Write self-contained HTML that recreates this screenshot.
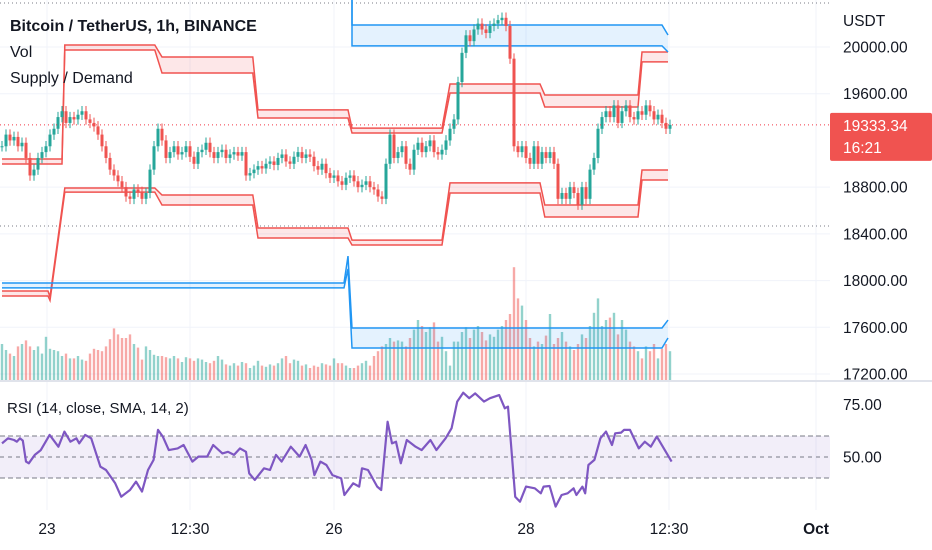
<!DOCTYPE html>
<html><head><meta charset="utf-8">
<style>
html,body{margin:0;padding:0;background:#fff;}
svg{display:block;font-family:"Liberation Sans",sans-serif;}
</style></head>
<body>
<svg id="chart" width="932" height="550" viewBox="0 0 932 550" xmlns="http://www.w3.org/2000/svg">
<rect width="932" height="550" fill="#fff"/>
<defs><clipPath id="mainClip"><rect x="0" y="0" width="830" height="380"/></clipPath>
<clipPath id="rsiClip"><rect x="0" y="382" width="830" height="128"/></clipPath></defs>
<g id="grid"></g>
<g id="volume" clip-path="url(#mainClip)"></g>
<g id="zones" clip-path="url(#mainClip)"></g>
<g id="candles" clip-path="url(#mainClip)"></g>
<g id="rsi" clip-path="url(#rsiClip)"></g>
<g id="axes"></g>
<g>
<text x="10" y="31" font-size="16" font-weight="bold" fill="#131722">Bitcoin / TetherUS, 1h, BINANCE</text>
<text x="10" y="57" font-size="16" fill="#131722">Vol</text>
<text x="10" y="83" font-size="16" fill="#131722">Supply / Demand</text>
<text x="7" y="413" font-size="15" fill="#131722">RSI (14, close, SMA, 14, 2)</text>
</g>
</svg>
<script>
const closes=[19150,19250,19200,19230,19150,19180,
19050,18900,18950,19050,19100,19150,
19250,19300,19400,19450,
19350,19400,19380,19420,19450,19380,19350,19320,
19250,19150,19050,18950,18900,18850,18800,
18720,18700,18780,18760,18700,18750,
18950,19150,19300,
19200,19050,19100,19150,19080,19100,19150,19060,19000,19100,19120,19180,19100,19050,19100,19120,19050,19080,19100,19070,19100,
18900,18920,
18950,18980,18960,19000,19020,18990,19050,19080,19020,19000,19060,19100,19050,19080,19060,
18980,18950,19000,18920,18880,18900,18850,18820,18880,18900,18850,18800,18820,18850,18800,18780,18720,18700,
19000,19250,
19050,19100,19150,19000,18950,19120,19180,19100,19150,19200,19100,19080,19120,
19200,19300,19380,
19700,19950,20100,
20050,20150,20200,20150,20120,20180,20200,20230,20250,20180,
19900,19150,
19100,19150,19050,19000,19150,19000,19100,19050,19100,
19000,18700,
18750,18700,18800,18750,18650,18800,18700,
18950,19050,19300,19400,
19450,19400,19500,19350,19450,19500,19400,19380,19450,19420,
19500,19450,19380,19420,19350,19300,19333];
const volumes=[30,25,22,20,28,30,33,28,25,28,22,36,
26,25,24,20,22,18,18,20,17,16,22,26,25,24,28,34,
43,38,35,35,38,30,27,17,28,25,
21,20,20,19,18,20,18,15,19,18,16,18,17,15,14,16,20,17,13,12,14,12,15,
14,10,12,16,12,11,13,12,14,18,20,14,17,16,12,13,10,12,11,14,
13,12,18,14,14,12,10,10,12,14,16,12,20,24,28,30,
35,32,33,32,28,35,42,50,45,40,44,48,32,36,24,12,32,
32,40,44,35,42,45,40,33,38,36,42,45,50,55,94,68,62,
50,35,28,32,30,37,55,30,35,40,32,28,25,30,38,35,45,56,68,45,
50,52,56,38,50,42,32,28,24,18,28,24,30,18,26,30,24];
// zones: [startHour,endHour,top,bottom]
const upperRed=[[0,15,19041,18998],[15.7,38.2,20017,19974],[40,62.7,19914,19777],[64,86.5,19461,19392],[87.5,110,19306,19264],[112,134.5,19683,19606],[135.7,159,19589,19486],[160,166.5,19957,19872]];
const lowerRed=[[0,11.5,17911,17868],[12,12,17860,17830],[15.7,38.2,18793,18758],[40,62.7,18733,18647],[64,86.5,18450,18365],[87.5,110,18347,18305],[112,134.5,18836,18750],[135.7,159,18647,18544],[160,166.5,18947,18861]];
const upperBlue=[[87.5,87.5,20450,20450],[87.5,165,20188,20009],[166.5,166.5,20103,19957]];
const lowerBlue=[[0,85.5,17979,17937],[86.5,86.5,18210,18100],[87.5,165,17594,17423],[166.5,166.5,17662,17508]];
const rsiHour=[0,1.5,3,3.7,4.5,5.2,6,6.7,8.2,9.7,11.9,14.1,15.6,17.1,18.6,19.3,20.8,22.3,24.6,26,28.3,29.8,32,33.5,35,36.5,37.9,39,40.2,41.7,43.9,45.4,47.6,49.1,51.3,52.8,55.1,56.5,58,59.5,61,61.8,63.2,65.5,67,68.5,69.9,72.2,74.4,75.9,77.4,78.1,79.6,81.1,82.6,84.8,85.6,87.8,89.3,90,91.5,93.8,94.8,96.4,97.5,98.5,99.7,101.2,103.4,104.9,107.1,108.6,110.9,112.4,113.8,115.3,116.8,118.3,120.5,122,124.3,125.7,126.5,128.3,129.5,131,133.2,134.7,135.4,136.9,138.4,139.9,141.4,142.9,143.6,145.1,145.8,146.6,148.1,149.6,151,152.5,153.3,154.8,155.5,157,159.2,160.7,162.2,163.7,165.2,167.4];
const rsiVal=[56.5,58.9,58.1,57.3,58.9,57.8,47.8,47.0,51.0,53.3,60.5,54.9,62.1,57.3,58.9,56.5,60.5,58.9,45.4,43.8,37.5,31.1,34.3,38.3,33.5,43.8,48.6,62.9,59.7,53.3,54.1,55.7,47.8,50.2,50.2,55.7,51.7,52.5,51.0,54.1,52.5,42.2,39.1,44.6,43.8,51.0,47.8,54.9,50.2,55.7,48.6,41.4,47.8,46.2,41.4,39.8,31.9,37.5,35.9,44.6,43.8,35.9,34.3,66.8,56.5,57.3,47.0,58.1,54.9,53.3,58.1,53.3,58.9,63.7,76.4,80.6,78.0,80.3,76.4,78.0,79.5,73.2,74.0,31.1,28.7,35.9,35.1,32.7,35.9,36.2,26.4,31.9,32.7,35.1,31.9,35.9,32.7,46.2,48.6,58.9,62.1,55.7,61.3,61.6,62.9,62.9,54.1,57.3,54.9,59.7,54.9,47.8];
const priceTicks=[20000,19600,18800,18400,18000,17600,17200];
const rsiTicks=[75,50];
const rsiBands=[60,50,40];
const timeHours=[11.25,47,83,131,166.75,203.5];
const timeLabels=["23","12:30","26","28","12:30","Oct"];
const lastPrice="19333.34", countdown="16:21";

const NS="http://www.w3.org/2000/svg";
function mk(tag,attrs,parent){const e=document.createElementNS(NS,tag);for(const k in attrs)e.setAttribute(k,attrs[k]);parent.appendChild(e);return e;}
const xH=h=>2+4*h;
const yP=p=>47+(20000-p)*0.11679;
const yR=v=>457-(v-50)*2.1;
const volScale=1.2;
const yV=v=>380-v*volScale;
const G=id=>document.getElementById(id);

// grid
const grid=G('grid');
priceTicks.forEach(p=>{const l=mk('line',{x1:0,x2:830,y1:yP(p),y2:yP(p),stroke:'#f0f3fa','stroke-width':1},grid);

});
timeHours.forEach(h=>{const l=mk('line',{x1:xH(h),x2:xH(h),y1:0,y2:510,stroke:'#f0f3fa','stroke-width':1},grid);

});
[3,226].forEach(y=>{const l=mk('line',{x1:0,x2:830,y1:y,y2:y,stroke:'#787b86','stroke-width':1,'stroke-dasharray':'1 3'},grid);

});

// volume
const vg=G('volume');
volumes.forEach((v,i)=>{const o=i?closes[i-1]:closes[0];const up=closes[i]>=o;
const r=mk('rect',{x:xH(i)-1.2,y:yV(v),width:2.4,height:380-yV(v),fill:up?'rgba(38,166,154,0.5)':'rgba(239,83,80,0.5)'},vg);

});

// zones
const zg=G('zones');
function band(segs,color,fill,name){
 const top=[],bot=[];
 segs.forEach(s=>{top.push([xH(s[0]),yP(s[2])],[xH(s[1]),yP(s[2])]);bot.push([xH(s[0]),yP(s[3])],[xH(s[1]),yP(s[3])]);});
 const pts=a=>a.map(p=>p[0].toFixed(1)+','+p[1].toFixed(1)).join(' ');
 const poly=mk('polygon',{points:pts(top)+' '+pts(bot.slice().reverse()),fill:fill},zg);
 
 
 const l1=mk('polyline',{points:pts(top),fill:'none',stroke:color,'stroke-width':1.5},zg);
 
 
 const l2=mk('polyline',{points:pts(bot),fill:'none',stroke:color,'stroke-width':1.5},zg);
 
 
}
band(upperRed,'#f05350','rgba(242,54,69,0.12)','supply-zone');
band(lowerRed,'#f05350','rgba(242,54,69,0.12)','demand-zone');
band(upperBlue,'#2196f3','rgba(33,150,243,0.12)','upper-blue-zone');
band(lowerBlue,'#2196f3','rgba(33,150,243,0.12)','lower-blue-zone');

// candles
const cg=G('candles');
closes.forEach((c,i)=>{const o=i?closes[i-1]:c;const up=c>=o;const col=up?'#26a69a':'#ef5350';
const hi=Math.max(o,c)+45,lo=Math.min(o,c)-45;
const w=mk('line',{x1:xH(i),x2:xH(i),y1:yP(hi),y2:yP(lo),stroke:col,'stroke-width':1},cg);


const b=mk('rect',{x:xH(i)-1.5,y:yP(Math.max(o,c)),width:3,height:Math.max(1,Math.abs(yP(o)-yP(c))),fill:col},cg);

});
const lastY=yP(closes[closes.length-1]);
const pl=mk('line',{x1:0,x2:830,y1:lastY,y2:lastY,stroke:'#f23645','stroke-width':1,'stroke-dasharray':'1 3'},cg);



// rsi
const rg=G('rsi');
const bandRect=mk('rect',{x:0,y:yR(rsiBands[0]),width:830,height:yR(rsiBands[2])-yR(rsiBands[0]),fill:'rgba(126,87,194,0.1)'},rg);


rsiBands.forEach((b,k)=>{const l=mk('line',{x1:0,x2:830,y1:yR(b),y2:yR(b),stroke:'#787b86','stroke-width':1,'stroke-dasharray':k==1?'4 4':'5 3'},rg);

});
const rl=mk('polyline',{points:rsiHour.map((h,i)=>xH(h).toFixed(1)+','+yR(rsiVal[i]).toFixed(1)).join(' '),fill:'none',stroke:'#7e57c2','stroke-width':2.2,'stroke-linejoin':'round'},rg);



// axes
const ag=G('axes');
const sep=mk('line',{x1:0,x2:932,y1:381,y2:381,stroke:'#e0e3eb','stroke-width':2},ag);


const cur=mk('text',{x:843,y:26,'font-size':15.5,fill:'#131722'},ag);cur.textContent='USDT';


priceTicks.forEach(p=>{const t=mk('text',{x:843,y:yP(p)+5.5,'font-size':15.5,fill:'#131722'},ag);t.textContent=p.toFixed(2);

});
rsiTicks.forEach(v=>{const t=mk('text',{x:843,y:yR(v)+5.5,'font-size':15.5,fill:'#131722'},ag);t.textContent=v.toFixed(2);

});
timeHours.forEach((h,i)=>{const t=mk('text',{x:xH(h),y:534,'font-size':15.5,'text-anchor':'middle',fill:'#131722','font-weight':timeLabels[i]==='Oct'?'bold':'normal'},ag);t.textContent=timeLabels[i];

});
const box=mk('rect',{x:830,y:lastY-12,width:102,height:48,rx:2,fill:'#f05350'},ag);


const t1=mk('text',{x:843,y:lastY+6,'font-size':15.5,fill:'#fff'},ag);t1.textContent=lastPrice;


const t2=mk('text',{x:843,y:lastY+28,'font-size':15.5,fill:'#fff'},ag);t2.textContent=countdown;


</script>
</body></html>
